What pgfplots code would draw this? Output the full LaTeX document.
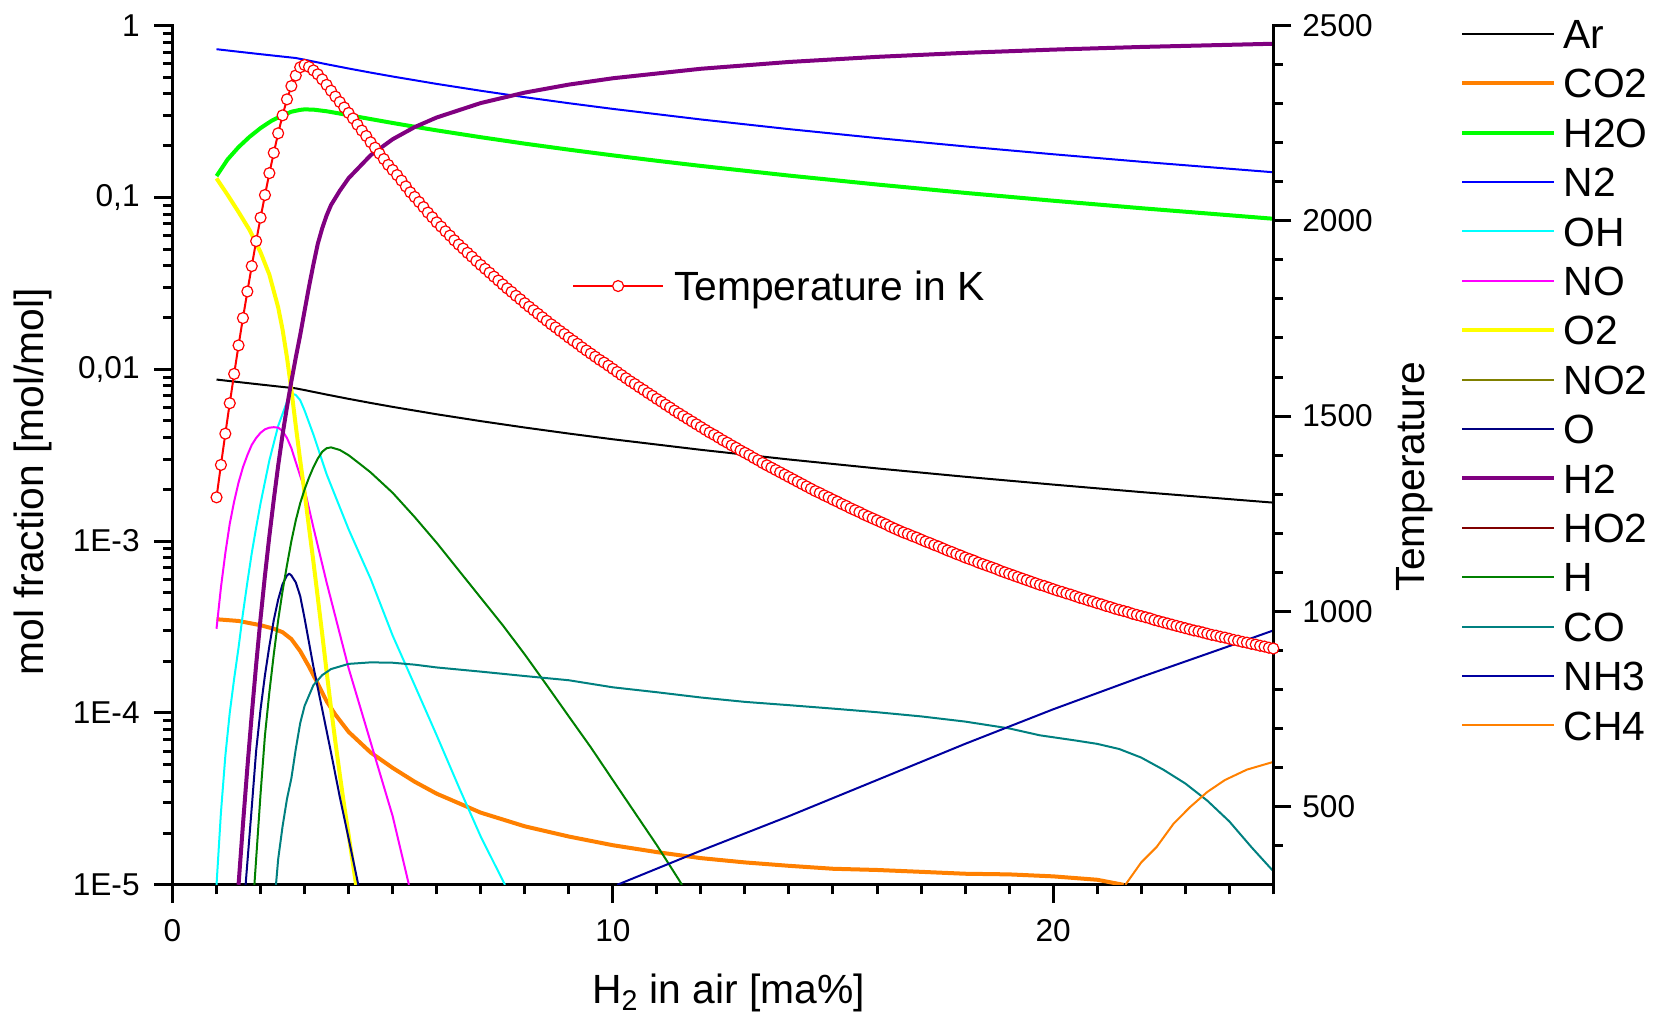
\documentclass[border=0pt]{standalone}
\usepackage{pgfplots}
\pgfplotsset{compat=1.18}
\usepackage{fontspec}
\setmainfont{Liberation Sans}
\definecolor{cOrange}{RGB}{255,128,0}
\definecolor{cGreen}{RGB}{0,255,0}
\definecolor{cBlue}{RGB}{0,0,255}
\definecolor{cCyan}{RGB}{0,255,255}
\definecolor{cMagenta}{RGB}{255,0,255}
\definecolor{cYellow}{RGB}{255,255,0}
\definecolor{cOlive}{RGB}{128,128,0}
\definecolor{cNavy}{RGB}{0,0,128}
\definecolor{cPurple}{RGB}{128,0,128}
\definecolor{cWine}{RGB}{128,0,0}
\definecolor{cDkGreen}{RGB}{0,128,0}
\definecolor{cTeal}{RGB}{0,128,128}
\definecolor{cRoyal}{RGB}{0,0,160}
\definecolor{cRed}{RGB}{255,0,0}
\newcommand{\tickfont}{\fontsize{15.8}{18}\selectfont}
\newcommand{\labfont}{\fontsize{20.4}{24}\selectfont}
\pgfplotsset{
  base/.style={
    width=550.4pt, height=429.65pt, scale only axis,
    at={(0pt,0pt)}, anchor=south west,
    xmin=0, xmax=25,
    axis line style={line width=1.5pt, line cap=rect},
    tick style={line width=1.5pt, black},
    tick align=outside,
    major tick length=9pt, minor tick length=4.75pt,
    tick label style={font=\tickfont},
    /pgf/number format/assume math mode=true,
    every axis plot/.append style={line join=round},
  },
  thin/.style={line width=1pt},
  thick/.style={line width=2pt},
}
\begin{document}
\begin{tikzpicture}
\useasboundingbox (-86.25pt,-66.1pt) rectangle (742.25pt,442.4pt);
\begin{axis}[base,
  ymode=log, ymin=1e-5, ymax=1,
  axis x line*=bottom, axis y line*=left,
  xtick={0,10,20}, xticklabels={0,10,20},
  minor xtick={1,2,3,4,5,6,7,8,9,11,12,13,14,15,16,17,18,19,21,22,23,24,25},
  ytick={1e-5,1e-4,1e-3,1e-2,1e-1,1},
  yticklabels={1E-5,1E-4,1E-3,{0,01},{0,1},1},
  minor ytick={2e-5,3e-5,4e-5,5e-5,6e-5,7e-5,8e-5,9e-5,
    2e-4,3e-4,4e-4,5e-4,6e-4,7e-4,8e-4,9e-4,
    2e-3,3e-3,4e-3,5e-3,6e-3,7e-3,8e-3,9e-3,
    0.02,0.03,0.04,0.05,0.06,0.07,0.08,0.09,
    0.2,0.3,0.4,0.5,0.6,0.7,0.8,0.9},
  xticklabel style={anchor=north, inner sep=0pt, yshift=-8pt},
  yticklabel style={anchor=east, inner sep=0pt, xshift=-7.25pt},
  xlabel={H\textsubscript{2} in air [ma\%]},
  ylabel={mol fraction [mol/mol]},
  every axis x label/.style={at={(axis description cs:0.5053,-0.1386)}, anchor=base, font=\labfont},
  every axis y label/.style={at={(axis description cs:-0.1174,0.4690)}, anchor=base, rotate=90, font=\labfont},
  legend image code/.code={\draw[#1] (0pt,0pt) -- (46pt,0pt);},
  legend cell align=left,
  legend style={at={(axis description cs:1.1700,1.0073)}, anchor=north west,
    draw=none, fill=none, inner sep=0pt, outer sep=0pt,
    row sep=10.1pt, column sep=3.6pt,
    nodes={inner sep=0pt, text height=14.6pt, text depth=0pt, anchor=west, font=\labfont}},
]
% Ar
\addplot[thin, black] coordinates {(1,0.008708) (1.5,0.008419) (2,0.008146) (2.5,0.007887) (2.8,0.007739) (3,0.007564) (3.5,0.007122) (4,0.006724) (4.5,0.006365) (5,0.006039) (6,0.005470) (7,0.004990) (8,0.004579) (9,0.004224) (10,0.003913) (12,0.003397) (14,0.002985) (16,0.002648) (18,0.002368) (20,0.002132) (22,0.001929) (25,0.001674)};
\addlegendentry{Ar}
% CO2
\addplot[thick, cOrange] coordinates {(1,3.51e-4) (1.5,3.43e-4) (2,3.24e-4) (2.3,3.09e-4) (2.5,2.95e-4) (2.7,2.69e-4) (2.9,2.29e-4) (3.1,1.86e-4) (3.3,1.48e-4) (3.5,1.17e-4) (3.7,9.77e-5) (4,7.76e-5) (4.5,5.89e-5) (5,4.79e-5) (5.5,3.98e-5) (6,3.39e-5) (7,2.63e-5) (8,2.19e-5) (9,1.91e-5) (10,1.70e-5) (11,1.55e-5) (12,1.43e-5) (13,1.35e-5) (14,1.29e-5) (15,1.24e-5) (16,1.22e-5) (17,1.19e-5) (18,1.16e-5) (19,1.15e-5) (20,1.12e-5) (21,1.07e-5) (21.6,1.0e-5)};
\addlegendentry{CO2}
% H2O
\addplot[thick, cGreen] coordinates {(1,0.133) (1.25,0.1660) (1.5,0.1960) (1.75,0.2250) (2,0.2530) (2.25,0.2790) (2.5,0.3000) (2.7,0.3150) (2.9,0.3230) (3,0.3250) (3.2,0.3240) (3.5,0.3170) (4,0.3010) (4.5,0.2855) (5,0.2709) (5.5,0.2576) (6,0.2454) (7,0.2239) (8,0.2054) (9,0.1895) (10,0.1756) (11,0.1633) (12,0.1524) (14,0.1339) (16,0.1188) (18,0.1062) (20,0.0956) (22,0.0865) (25,0.0751)};
\addlegendentry{H2O}
% N2
\addplot[thin, cBlue] coordinates {(1,0.7280) (1.5,0.7038) (2,0.6810) (2.5,0.6594) (2.8,0.6469) (3,0.6323) (3.5,0.5953) (4,0.5621) (4.5,0.5321) (5,0.5049) (6,0.4573) (7,0.4172) (8,0.3828) (9,0.3531) (10,0.3272) (12,0.2840) (14,0.2495) (16,0.2214) (18,0.1980) (20,0.1782) (22,0.1612) (25,0.1400)};
\addlegendentry{N2}
% OH
\addplot[thin, cCyan] coordinates {(1,1.0e-5) (1.1,2.63e-5) (1.2,5.62e-5) (1.3,1.0e-4) (1.4,1.58e-4) (1.5,2.40e-4) (1.6,3.80e-4) (1.7,5.75e-4) (1.8,8.51e-4) (1.9,1.20e-3) (2,1.66e-3) (2.2,2.95e-3) (2.4,4.68e-3) (2.6,6.46e-3) (2.7,7.24e-3) (2.8,7.08e-3) (2.9,6.61e-3) (3,5.75e-3) (3.2,4.17e-3) (3.5,2.45e-3) (4,1.17e-3) (4.5,6.03e-4) (5,2.82e-4) (5.5,1.45e-4) (6,7.41e-5) (6.5,3.72e-5) (7,1.91e-5) (7.55,1.0e-5)};
\addlegendentry{OH}
% NO
\addplot[thin, cMagenta] coordinates {(1,3.09e-4) (1.1,5.37e-4) (1.2,8.51e-4) (1.3,1.26e-3) (1.4,1.70e-3) (1.5,2.19e-3) (1.6,2.69e-3) (1.7,3.16e-3) (1.8,3.63e-3) (1.9,3.98e-3) (2,4.27e-3) (2.1,4.47e-3) (2.2,4.57e-3) (2.3,4.60e-3) (2.4,4.57e-3) (2.5,4.37e-3) (2.6,3.98e-3) (2.7,3.47e-3) (2.8,2.88e-3) (3,2.00e-3) (3.2,1.20e-3) (3.5,5.75e-4) (4,1.82e-4) (4.5,6.76e-5) (5,2.51e-5) (5.37,1.0e-5)};
\addlegendentry{NO}
% O2
\addplot[thick, cYellow] coordinates {(1,0.129) (1.25,0.1035) (1.5,0.0822) (1.75,0.0646) (2,0.0479) (2.2,0.0355) (2.4,0.0229) (2.5,0.0170) (2.6,0.0117) (2.7,0.00759) (2.8,0.00468) (2.9,0.00295) (3,0.00191) (3.1,0.00120) (3.2,7.59e-4) (3.3,4.68e-4) (3.4,2.88e-4) (3.5,1.74e-4) (3.6,1.07e-4) (3.7,6.76e-5) (3.8,4.37e-5) (3.9,2.88e-5) (4,1.95e-5) (4.1,1.32e-5) (4.17,1.0e-5)};
\addlegendentry{O2}
% NO2 (below range)
\addlegendimage{thin, cOlive}
\addlegendentry{NO2}
% O
\addplot[thin, cNavy] coordinates {(1.66,1.0e-5) (1.8,2.82e-5) (1.9,6.03e-5) (2,1.05e-4) (2.1,1.66e-4) (2.2,2.45e-4) (2.3,3.47e-4) (2.4,4.57e-4) (2.5,5.62e-4) (2.6,6.31e-4) (2.65,6.46e-4) (2.7,6.31e-4) (2.8,5.75e-4) (2.9,4.79e-4) (3,3.55e-4) (3.2,1.86e-4) (3.4,1.05e-4) (3.6,5.89e-5) (3.8,3.24e-5) (4,1.86e-5) (4.22,1.0e-5)};
\addlegendentry{O}
% H2
\addplot[thick, cPurple] coordinates {(1.5,1.0e-5) (1.6,2.24e-5) (1.7,4.79e-5) (1.8,9.77e-5) (1.9,1.91e-4) (2,3.55e-4) (2.1,6.31e-4) (2.2,1.07e-3) (2.3,1.74e-3) (2.4,2.75e-3) (2.5,4.17e-3) (2.6,6.03e-3) (2.7,8.51e-3) (2.8,0.0117) (2.9,0.0158) (3,0.0219) (3.1,0.0302) (3.2,0.0407) (3.3,0.0537) (3.4,0.0661) (3.5,0.0785) (3.6,0.0902) (3.8,0.1093) (4,0.1293) (4.5,0.1758) (5,0.2179) (5.5,0.2564) (6,0.2916) (7,0.3538) (8,0.4070) (9,0.4530) (10,0.4932) (12,0.5601) (14,0.6135) (16,0.6570) (18,0.6933) (20,0.7240) (22,0.7502) (25,0.7832)};
\addlegendentry{H2}
% HO2 (below range)
\addlegendimage{thin, cWine}
\addlegendentry{HO2}
% H
\addplot[thin, cDkGreen] coordinates {(1.86,1.0e-5) (2,3.39e-5) (2.1,7.41e-5) (2.2,1.32e-4) (2.3,2.19e-4) (2.4,3.47e-4) (2.5,5.13e-4) (2.6,7.24e-4) (2.7,1.00e-3) (2.8,1.32e-3) (2.9,1.66e-3) (3,2.00e-3) (3.1,2.34e-3) (3.2,2.69e-3) (3.3,3.02e-3) (3.4,3.31e-3) (3.5,3.47e-3) (3.6,3.51e-3) (3.8,3.39e-3) (4,3.16e-3) (4.25,2.82e-3) (4.5,2.51e-3) (5,1.91e-3) (5.5,1.38e-3) (6,9.77e-4) (6.5,6.76e-4) (7,4.68e-4) (7.5,3.24e-4) (8,2.19e-4) (8.5,1.45e-4) (9,9.55e-5) (9.5,6.31e-5) (10,4.07e-5) (10.5,2.63e-5) (11,1.70e-5) (11.5,1.07e-5) (11.57,1.0e-5)};
\addlegendentry{H}
% CO
\addplot[thin, cTeal] coordinates {(2.35,1.0e-5) (2.4,1.41e-5) (2.5,2.19e-5) (2.6,3.16e-5) (2.7,4.17e-5) (2.8,6.17e-5) (2.9,8.71e-5) (3,1.10e-4) (3.2,1.45e-4) (3.4,1.66e-4) (3.6,1.80e-4) (4,1.93e-4) (4.5,1.97e-4) (5,1.96e-4) (5.5,1.91e-4) (6,1.84e-4) (7,1.74e-4) (8,1.64e-4) (9,1.55e-4) (10,1.41e-4) (11,1.32e-4) (12,1.23e-4) (13,1.16e-4) (14,1.11e-4) (15,1.06e-4) (16,1.01e-4) (17,9.55e-5) (18,8.91e-5) (19,8.13e-5) (19.7,7.41e-5) (20.5,6.92e-5) (21,6.61e-5) (21.5,6.17e-5) (22,5.50e-5) (22.5,4.68e-5) (23,3.89e-5) (23.5,3.09e-5) (24,2.34e-5) (24.5,1.66e-5) (25,1.20e-5)};
\addlegendentry{CO}
% NH3
\addplot[thin, cRoyal] coordinates {(10.1,1.0e-5) (12,1.58e-5) (14,2.51e-5) (16,4.07e-5) (18,6.61e-5) (20,1.05e-4) (22,1.62e-4) (24,2.45e-4) (25,3.02e-4)};
\addlegendentry{NH3}
% CH4
\addplot[thin, cOrange] coordinates {(21.64,1.0e-5) (22,1.35e-5) (22.35,1.66e-5) (22.73,2.26e-5) (23.1,2.82e-5) (23.5,3.47e-5) (23.9,4.07e-5) (24.4,4.68e-5) (25,5.19e-5)};
\addlegendentry{CH4}
\end{axis}
\begin{axis}[base,
  ymin=300, ymax=2500,
  axis x line=none, axis y line*=right,
  ytick={500,1000,1500,2000,2500},
  yticklabels={500,1000,1500,2000,2500},
  minor ytick={400,600,700,800,900,1100,1200,1300,1400,1600,1700,1800,1900,2100,2200,2300,2400},
  yticklabel style={anchor=west, inner sep=0pt, xshift=5.35pt},
  ylabel={Temperature},
  every axis y label/.style={at={(axis description cs:1.1369,0.4750)}, anchor=base, rotate=90, font=\labfont},
  legend image code/.code={\draw[#1, mark repeat=2, mark phase=2] plot coordinates {(0pt,0pt) (22.5pt,0pt) (45pt,0pt)};},
  legend style={at={(axis description cs:0.3630,0.6968)}, anchor=west,
    draw=none, fill=none, inner sep=0pt, outer sep=0pt, column sep=5pt,
    nodes={inner sep=0pt, text height=14.6pt, text depth=0pt, anchor=west, font=\labfont}},
]
\addplot[color=cRed, line width=1pt, mark=*, mark size=2.75pt,
  mark options={fill=white, draw=cRed, line width=0.6pt, solid}] table {
x T
1.0 1292
1.1 1375
1.2 1455
1.3 1533
1.4 1608
1.5 1681
1.6 1751
1.7 1819
1.8 1884
1.9 1948
2.0 2008
2.1 2066
2.2 2122
2.3 2174
2.4 2224
2.5 2270
2.6 2311
2.7 2345
2.8 2372
2.9 2393
3.0 2399
3.1 2394
3.2 2385
3.3 2375
3.4 2362
3.5 2348
3.6 2333
3.7 2318
3.8 2304
3.9 2290
4.0 2276
4.1 2262
4.2 2246
4.3 2231
4.4 2217
4.5 2201
4.6 2187
4.7 2172
4.8 2158
4.9 2143
5.0 2130
5.1 2117
5.2 2103
5.3 2088
5.4 2073
5.5 2061
5.6 2048
5.7 2035
5.8 2021
5.9 2009
6.0 1996
6.1 1985
6.2 1973
6.3 1962
6.4 1950
6.5 1939
6.6 1929
6.7 1918
6.8 1908
6.9 1897
7.0 1887
7.1 1877
7.2 1867
7.3 1857
7.4 1847
7.5 1837
7.6 1827
7.7 1818
7.8 1808
7.9 1799
8.0 1789
8.1 1780
8.2 1771
8.3 1762
8.4 1753
8.5 1744
8.6 1735
8.7 1727
8.8 1718
8.9 1710
9.0 1701
9.1 1693
9.2 1685
9.3 1676
9.4 1668
9.5 1660
9.6 1652
9.7 1644
9.8 1637
9.9 1629
10.0 1621
10.1 1613
10.2 1605
10.3 1597
10.4 1589
10.5 1582
10.6 1574
10.7 1567
10.8 1559
10.9 1552
11.0 1544
11.1 1537
11.2 1529
11.3 1522
11.4 1514
11.5 1507
11.6 1500
11.7 1493
11.8 1486
11.9 1479
12.0 1472
12.1 1465
12.2 1458
12.3 1452
12.4 1445
12.5 1438
12.6 1432
12.7 1425
12.8 1419
12.9 1412
13.0 1406
13.1 1400
13.2 1393
13.3 1387
13.4 1380
13.5 1374
13.6 1368
13.7 1362
13.8 1356
13.9 1350
14.0 1344
14.1 1338
14.2 1332
14.3 1326
14.4 1320
14.5 1314
14.6 1308
14.7 1303
14.8 1297
14.9 1292
15.0 1286
15.1 1281
15.2 1275
15.3 1270
15.4 1264
15.5 1259
15.6 1254
15.7 1248
15.8 1243
15.9 1238
16.0 1233
16.1 1228
16.2 1223
16.3 1217
16.4 1212
16.5 1207
16.6 1202
16.7 1198
16.8 1193
16.9 1189
17.0 1184
17.1 1179
17.2 1175
17.3 1170
17.4 1166
17.5 1161
17.6 1156
17.7 1152
17.8 1147
17.9 1143
18.0 1138
18.1 1134
18.2 1130
18.3 1125
18.4 1121
18.5 1117
18.6 1113
18.7 1109
18.8 1104
18.9 1100
19.0 1096
19.1 1092
19.2 1088
19.3 1084
19.4 1080
19.5 1076
19.6 1072
19.7 1068
19.8 1065
19.9 1061
20.0 1057
20.1 1053
20.2 1050
20.3 1046
20.4 1043
20.5 1039
20.6 1035
20.7 1032
20.8 1028
20.9 1025
21.0 1021
21.1 1018
21.2 1014
21.3 1011
21.4 1007
21.5 1004
21.6 1001
21.7 998
21.8 994
21.9 991
22.0 988
22.1 985
22.2 982
22.3 978
22.4 975
22.5 972
22.6 969
22.7 966
22.8 963
22.9 960
23.0 957
23.1 954
23.2 951
23.3 949
23.4 946
23.5 943
23.6 940
23.7 938
23.8 935
23.9 933
24.0 930
24.1 927
24.2 925
24.3 922
24.4 920
24.5 917
24.6 915
24.7 912
24.8 910
24.9 907
25.0 905
};
\addlegendentry{Temperature in K}
\end{axis}
\end{tikzpicture}
\end{document}
